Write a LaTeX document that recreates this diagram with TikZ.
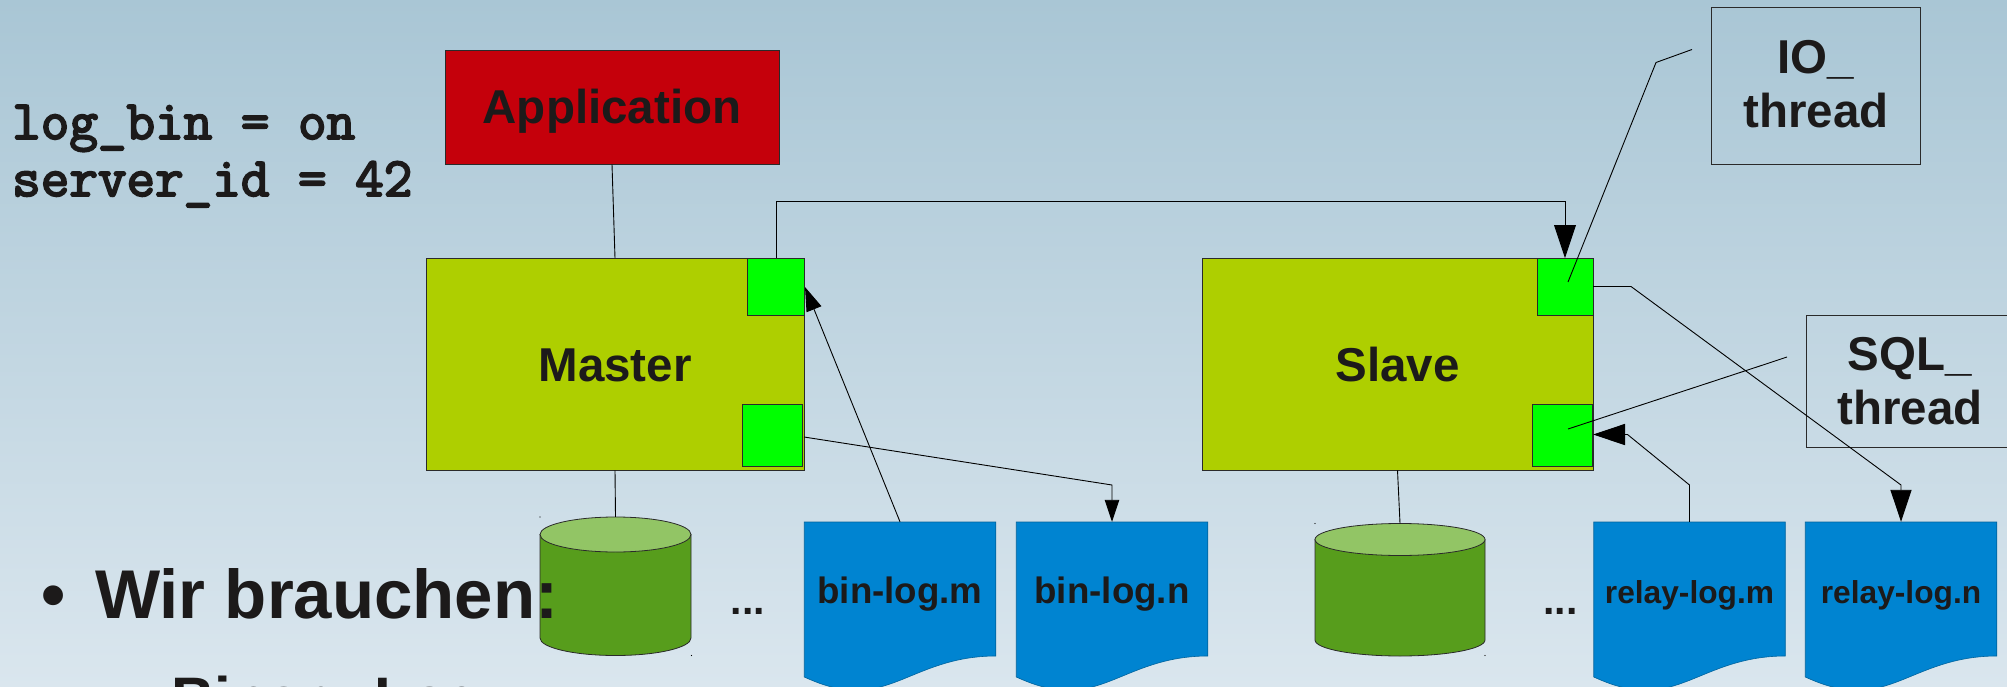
\documentclass[tikz,border=0pt]{standalone}
\usepackage{fontspec}
\setmainfont{Liberation Sans}
\newfontfamily\configfont[FakeBold=3.5]{Latin Modern Mono}
\usetikzlibrary{arrows.meta}

\definecolor{inkdark}{HTML}{1C1A1A}
\definecolor{linedark}{HTML}{2A2A2A}
\definecolor{skytop}{HTML}{A9C6D5}
\definecolor{skybottom}{HTML}{DAE6EE}
\definecolor{appred}{HTML}{C5000B}
\definecolor{serverlime}{HTML}{AECF00}
\definecolor{threadgreen}{HTML}{00FF00}
\definecolor{logblue}{HTML}{0084D1}
\definecolor{dbgreen}{HTML}{579D1C}
\definecolor{dbtop}{HTML}{92C565}

\tikzset{
	box/.style={draw=linedark, line width=0.8pt, anchor=base, inner sep=0pt, text=inkdark, font=\bfseries\fontsize{47.5}{54}\selectfont, align=center},
	server/.style={box, fill=serverlime, minimum width=#1, text height=122.5pt, text depth=89pt},
	thread/.style={draw=linedark, line width=0.8pt, fill=threadgreen, inner sep=0pt},
	logpaper/.style={fill=logblue, draw=logblue!75!black, line width=0.6pt},
	logfile/.style={anchor=base, inner sep=0pt, text=inkdark, font=\bfseries\fontsize{#1}{#1}\selectfont, text height=81pt, text depth=84pt, minimum width=191.5pt},
	drumbody/.style={draw=linedark, line width=0.8pt, fill=dbgreen},
	drumtop/.style={draw=linedark, line width=0.8pt, fill=dbtop},
	link/.style={draw=black, line width=0.9pt},
	tip/.style={-{Triangle[length=#1, width=0.66*#1]}},
	speck/.style={fill=black},
	dots/.style={text=inkdark, font=\bfseries\fontsize{41}{41}\selectfont, anchor=base, inner sep=0pt},
	bigline/.style={anchor=base west, inner sep=0pt, text=inkdark, font=\bfseries\fontsize{#1}{#1}\selectfont},
}

\newcommand{\logfile}[4]{
	\path[logpaper] (#2-95.75,522) -- (#2+95.75,522) -- (#2+95.75,656)
		.. controls (#2+30,656) and (#2,690) .. (#2-42,690)
		.. controls (#2-65,690) and (#2-80,684) .. (#2-95.75,677) -- cycle;
	\node[logfile=#4] (#1) at (#2,603) {#3};
}

\newcommand{\dbdrum}[6]{
	\path[drumbody] (#2-#5,#3) -- (#2-#5,#4) arc[start angle=180, end angle=0, x radius=#5, y radius=#6] -- (#2+#5,#3) -- cycle;
	\path[drumtop] (#2,#3) ellipse[x radius=#5, y radius=#6];
	\node[inner sep=0pt, minimum width={2*#5}, minimum height={#4-#3+2*#6}] (#1) at (#2,{(#3+#4)/2}) {};
}

\begin{document}
\begin{tikzpicture}[x=1pt, y=-1pt]
	\useasboundingbox (0,0) rectangle (2007,687);
	\clip (0,0) rectangle (2007,687);
	\fill[top color=skytop, bottom color=skybottom] (0,0) rectangle (2007,687);

	\node[anchor=base west, inner sep=0pt, text=inkdark, font=\configfont\fontsize{55.5}{57}\selectfont, align=left] (settings) at (12,196) {log\_bin = on\\server\_id = 42};

	\node[box, fill=appred, minimum width=334pt, text height=74pt, text depth=40pt] (application) at (612,124) {Application};
	\node[server=378pt] (master) at (615,381) {Master};
	\node[server=391pt] (slave) at (1397.5,381) {Slave};

	\node[thread, minimum width=57pt, minimum height=57pt] (masterio) at (776,287) {};
	\node[thread, minimum width=60pt, minimum height=62pt] (mastersql) at (772,435) {};
	\node[thread, minimum width=56pt, minimum height=57pt] (slaveio) at (1565,287) {};
	\node[thread, minimum width=60pt, minimum height=62pt] (slavesql) at (1562,435) {};

	\node[box, minimum width=208.5pt, text height=120.5pt, text depth=36pt] (iobox) at (1816,128) {IO\_\\thread};
	\node[box, minimum width=208pt, text height=109pt, text depth=23pt] (sqlbox) at (1910,424) {SQL\_\\thread};

	\dbdrum{masterdb}{615.5}{534.5}{638}{75.5}{17.5}
	\dbdrum{slavedb}{1400}{539.5}{640}{85}{16}
	\fill[speck] (540,517) circle (0.6pt) (691.5,655.5) circle (0.6pt) (1315,523.5) circle (0.6pt) (1485,655.5) circle (0.6pt);

	\logfile{binm}{900}{bin-log.m}{36.7}
	\logfile{binn}{1112}{bin-log.n}{36.7}
	\logfile{relaym}{1689.5}{relay-log.m}{31.7}
	\logfile{relayn}{1901}{relay-log.n}{31.7}

	\node[dots] (masterdots) at (748,614) {...};
	\node[dots] (slavedots) at (1560.5,614) {...};

	\coordinate (masterup) at (masterio.north |- 0,201.5);
	\coordinate (slaveup) at (slaveio.north |- 0,201.5);
	\coordinate (masterbend) at (binn.north |- 0,485);
	\coordinate (masterout) at (804,437);
	\coordinate (slaveout) at (1593,286.5);
	\coordinate (slavebend) at (1631,286.5);
	\coordinate (relaynbend) at (relayn.north |- 0,485);
	\coordinate (relaymbend) at (relaym.north |- 0,485);
	\coordinate (sqlin) at (1593,434.5);
	\coordinate (sqlbend) at (1627.5,434.5);
	\coordinate (binin) at (805,287);
	\coordinate (iofree) at (1692,49.5);
	\coordinate (iobend) at (1656,62.5);
	\coordinate (iotip) at (1568,282);
	\coordinate (sqlfree) at (1787,357);
	\coordinate (sqlmid) at (1769,363);
	\coordinate (sqltip) at (1568,429);

	\draw[link] (application.south) -- (master.north);
	\draw[link] (master.south) -- (masterdb.north);
	\draw[link] (slave.south) -- (slavedb.north);
	\draw[link, tip=33pt] (masterio.north) -- (masterup) -- (slaveup) -- (slaveio.north);
	\draw[link, tip=22pt] (masterout) -- (masterbend) -- (binn.north);
	\draw[link, tip=24pt] (binm.north) -- (binin);
	\draw[link, tip=32pt] (slaveout) -- (slavebend) -- (relaynbend) -- (relayn.north);
	\draw[link, tip=32pt] (relaym.north) -- (relaymbend) -- (sqlbend) -- (sqlin);
	\draw[link] (iofree) -- (iobend) -- (iotip);
	\draw[link] (sqlfree) -- (sqlmid) -- (sqltip);

	\node[bigline=69] (bullet) at (41,618.5) {•};
	\node[bigline=69] (needs) at (95,618.5) {Wir brauchen:};
	\node[bigline=60] (binlog) at (171,719.5) {Binary Log};
\end{tikzpicture}
\end{document}
